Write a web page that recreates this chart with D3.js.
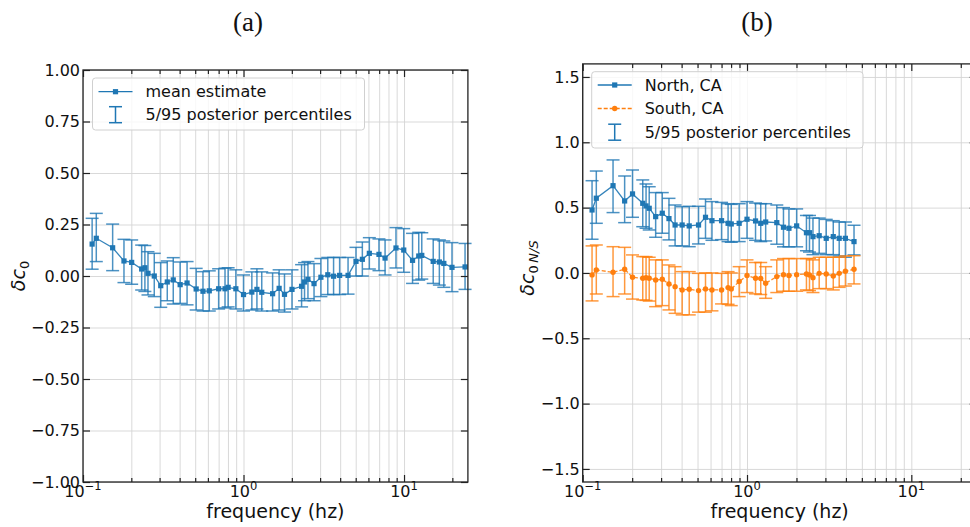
<!DOCTYPE html>
<html>
<head>
<meta charset="utf-8">
<script src="https://cdn.jsdelivr.net/npm/d3@7"></script>
<style>
body { margin:0; background:#fff; }
svg { display:block; font-family:"DejaVu Sans", sans-serif; }
</style>
</head>
<body>
<div id="grafico"></div>
<script>
// dati letti a occhio dal grafico

// pannello (a)
var freqA = [0.114, 0.121, 0.153, 0.18, 0.201, 0.232, 0.243, 0.254, 0.278, 0.305,
  0.335, 0.365, 0.403, 0.445, 0.507, 0.559, 0.612, 0.7, 0.767, 0.802,
  0.896, 1.0, 1.127, 1.212, 1.299, 1.518, 1.667, 1.8, 2.005, 2.3,
  2.4, 2.52, 2.75, 3.035, 3.35, 3.64, 3.97, 4.48, 5.02, 5.5,
  6.08, 6.98, 7.62, 8.91, 9.96, 11.3, 12.35, 12.9, 15.2, 16.6,
  17.7, 19.9, 24.0];
var meanA = [0.155, 0.183, 0.137, 0.073, 0.066, 0.034, 0.04, 0.013, 0.0, -0.047,
  -0.029, -0.019, -0.042, -0.034, -0.063, -0.074, -0.072, -0.062, -0.062, -0.055,
  -0.062, -0.09, -0.078, -0.065, -0.079, -0.086, -0.06, -0.089, -0.065, -0.05,
  -0.029, -0.016, -0.037, -0.006, 0.006, -0.001, 0.003, 0.003, 0.071, 0.081,
  0.11, 0.105, 0.087, 0.136, 0.126, 0.076, 0.097, 0.1, 0.071, 0.068,
  0.061, 0.042, 0.044];
var loA = [0.033, 0.07, 0.026, -0.032, -0.04, -0.068, -0.075, -0.092, -0.1, -0.152,
  -0.12, -0.136, -0.133, -0.14, -0.165, -0.17, -0.17, -0.16, -0.155, -0.15,
  -0.16, -0.17, -0.165, -0.16, -0.17, -0.17, -0.165, -0.175, -0.16, -0.15,
  -0.12, -0.11, -0.12, -0.1, -0.09, -0.09, -0.09, -0.088, 0.0, 0.0,
  0.034, 0.026, 0.005, 0.039, 0.018, -0.036, -0.02, -0.015, -0.036, -0.044,
  -0.055, -0.076, -0.065];
var hiA = [0.28, 0.304, 0.252, 0.178, 0.175, 0.15, 0.148, 0.118, 0.11, 0.065,
  0.073, 0.089, 0.068, 0.07, 0.037, 0.021, 0.025, 0.035, 0.038, 0.04,
  0.03, 0.005, 0.02, 0.035, 0.02, 0.015, 0.03, 0.01, 0.03, 0.055,
  0.065, 0.07, 0.06, 0.085, 0.09, 0.09, 0.09, 0.09, 0.139, 0.165,
  0.186, 0.18, 0.175, 0.235, 0.23, 0.207, 0.212, 0.21, 0.18, 0.175,
  0.17, 0.162, 0.158];

// pannello (b)
var freqB = [0.114, 0.121, 0.153, 0.18, 0.201, 0.232, 0.243, 0.254, 0.278, 0.305,
  0.335, 0.365, 0.403, 0.445, 0.507, 0.559, 0.612, 0.7, 0.767, 0.802,
  0.896, 1.0, 1.127, 1.212, 1.299, 1.518, 1.667, 1.8, 2.005, 2.3,
  2.4, 2.52, 2.75, 3.035, 3.35, 3.64, 3.97, 4.48];
var northMean = [0.482, 0.572, 0.668, 0.551, 0.605, 0.533, 0.513, 0.495, 0.431, 0.457,
  0.416, 0.367, 0.367, 0.36, 0.367, 0.426, 0.4, 0.4, 0.38, 0.375,
  0.38, 0.411, 0.398, 0.38, 0.39, 0.385, 0.35, 0.342, 0.36, 0.308,
  0.308, 0.278, 0.285, 0.265, 0.278, 0.265, 0.265, 0.24];
var northLo = [0.258, 0.38, 0.462, 0.385, 0.426, 0.354, 0.342, 0.329, 0.273, 0.304,
  0.253, 0.207, 0.207, 0.201, 0.222, 0.265, 0.25, 0.255, 0.24, 0.235,
  0.24, 0.265, 0.25, 0.24, 0.245, 0.22, 0.2, 0.2, 0.2, 0.17,
  0.16, 0.14, 0.15, 0.14, 0.14, 0.13, 0.12, 0.138];
var northHi = [0.706, 0.78, 0.865, 0.742, 0.788, 0.712, 0.681, 0.66, 0.615, 0.615,
  0.571, 0.52, 0.507, 0.51, 0.51, 0.566, 0.546, 0.54, 0.53, 0.525,
  0.53, 0.546, 0.535, 0.53, 0.53, 0.52, 0.5, 0.49, 0.49, 0.44,
  0.44, 0.42, 0.42, 0.41, 0.4, 0.39, 0.39, 0.365];
var southMean = [-0.015, 0.023, 0.005, 0.028, -0.033, -0.041, -0.036, -0.041, -0.054, -0.048,
  -0.084, -0.105, -0.13, -0.125, -0.135, -0.122, -0.13, -0.13, -0.112, -0.122,
  -0.066, -0.02, -0.041, -0.043, -0.079, -0.028, -0.013, -0.02, -0.013, -0.008,
  -0.015, -0.036, -0.003, -0.008, -0.023, -0.003, 0.013, 0.028];
var southLo = [-0.214, -0.161, -0.181, -0.161, -0.2, -0.207, -0.21, -0.215, -0.258, -0.25,
  -0.283, -0.309, -0.321, -0.321, -0.3, -0.3, -0.29, -0.237, -0.24, -0.25,
  -0.181, -0.15, -0.16, -0.165, -0.194, -0.15, -0.14, -0.14, -0.14, -0.13,
  -0.135, -0.15, -0.12, -0.12, -0.13, -0.11, -0.1, -0.084];
var southHi = [0.207, 0.214, 0.201, 0.196, 0.138, 0.125, 0.125, 0.12, 0.1, 0.1,
  0.061, 0.048, 0.01, 0.01, -0.003, 0.0, 0.0, -0.003, 0.01, 0.0,
  0.048, 0.1, 0.08, 0.08, 0.048, 0.1, 0.11, 0.11, 0.11, 0.11,
  0.11, 0.1, 0.12, 0.12, 0.12, 0.12, 0.13, 0.132];

// tick
var xMajor = [0.1, 1, 10];
var xMajorLabel = ["\u22121", "0", "1"];
var xMinor = [0.2, 0.3, 0.4, 0.5, 0.6, 0.7, 0.8, 0.9, 2, 3, 4, 5, 6, 7, 8, 9, 20];
var yTicksA = [-1, -0.75, -0.5, -0.25, 0, 0.25, 0.5, 0.75, 1];
var yTicksB = [-1.5, -1, -0.5, 0, 0.5, 1, 1.5];

var blu = "#1f77b4", arancio = "#ff7f0e";
var larghezza = 970, altezza = 527;

var svg = d3.select("#grafico").append("svg")
  .attr("width", larghezza)
  .attr("height", altezza);

function serie(freq, media, lo, hi) {
  return freq.map(function(f, i) { return {f: f, v: media[i], lo: lo[i], hi: hi[i]}; });
}

function pannello(cfg) {
  var x = d3.scaleLog().domain([0.1, 25]).range([cfg.left, cfg.right]);
  var y = d3.scaleLinear().domain(cfg.yDomain).range([cfg.bottom, cfg.top]);
  var g = svg.append("g");
  var h = cfg.bottom - cfg.top, w = cfg.right - cfg.left;

  // griglia
  g.append("g").attr("transform", "translate(0," + cfg.bottom + ")")
    .call(d3.axisBottom(x).tickValues(xMajor.concat(xMinor)).tickSize(-h).tickFormat(""))
    .call(function(a) { a.select(".domain").remove(); })
    .selectAll("line").attr("stroke", "#d5d5d5").attr("stroke-width", 0.9);
  g.append("g").attr("transform", "translate(" + cfg.left + ",0)")
    .call(d3.axisLeft(y).tickValues(cfg.yTicks).tickSize(-w).tickFormat(""))
    .call(function(a) { a.select(".domain").remove(); })
    .selectAll("line").attr("stroke", "#d5d5d5").attr("stroke-width", 0.9);

  // barre di errore, linea, marker
  cfg.series.forEach(function(s) {
    var sg = g.append("g");
    sg.selectAll(".bar").data(s.data).enter().append("line")
      .attr("x1", function(d) { return x(d.f); }).attr("x2", function(d) { return x(d.f); })
      .attr("y1", function(d) { return y(d.lo); }).attr("y2", function(d) { return y(d.hi); })
      .attr("stroke", s.colore).attr("stroke-width", 1.5).attr("stroke-opacity", 0.8);
    ["lo", "hi"].forEach(function(k) {
      sg.selectAll(".cap" + k).data(s.data).enter().append("line")
        .attr("x1", function(d) { return x(d.f) - 6.5; }).attr("x2", function(d) { return x(d.f) + 6.5; })
        .attr("y1", function(d) { return y(d[k]); }).attr("y2", function(d) { return y(d[k]); })
        .attr("stroke", s.colore).attr("stroke-width", 1.5).attr("stroke-opacity", 0.8);
    });
    var linea = d3.line().x(function(d) { return x(d.f); }).y(function(d) { return y(d.v); });
    sg.append("path").datum(s.data).attr("d", linea)
      .attr("fill", "none").attr("stroke", s.colore).attr("stroke-width", 1.3)
      .attr("stroke-opacity", 0.9)
      .attr("stroke-dasharray", s.tratteggio ? "4,2" : null);
    if (s.marker == "square") {
      sg.selectAll(".mk").data(s.data).enter().append("rect")
        .attr("x", function(d) { return x(d.f) - 2.6; }).attr("y", function(d) { return y(d.v) - 2.6; })
        .attr("width", 5.2).attr("height", 5.2).attr("fill", s.colore);
    } else {
      sg.selectAll(".mk").data(s.data).enter().append("circle")
        .attr("cx", function(d) { return x(d.f); }).attr("cy", function(d) { return y(d.v); })
        .attr("r", 2.7).attr("fill", s.colore);
    }
  });

  // tick verso l'interno
  function tacche(asse, valori, lung, trasf) {
    g.append("g").attr("transform", trasf)
      .call(asse.tickValues(valori).tickSize(lung).tickFormat(""))
      .call(function(a) { a.select(".domain").remove(); })
      .selectAll("line").attr("stroke", "#222").attr("stroke-width", 1.2);
  }
  tacche(d3.axisBottom(x), xMajor, -7, "translate(0," + cfg.bottom + ")");
  tacche(d3.axisBottom(x), xMinor, -4, "translate(0," + cfg.bottom + ")");
  tacche(d3.axisTop(x), xMajor, -7, "translate(0," + cfg.top + ")");
  tacche(d3.axisTop(x), xMinor, -4, "translate(0," + cfg.top + ")");
  tacche(d3.axisLeft(y), cfg.yTicks, -7, "translate(" + cfg.left + ",0)");
  tacche(d3.axisRight(y), cfg.yTicks, -7, "translate(" + cfg.right + ",0)");

  // bordo
  g.append("rect").attr("x", cfg.left).attr("y", cfg.top).attr("width", w).attr("height", h)
    .attr("fill", "none").attr("stroke", "#222").attr("stroke-width", 1.3);

  // etichette dei tick
  g.selectAll(".ylab").data(cfg.yTicks).enter().append("text")
    .attr("x", cfg.left - 3).attr("y", function(d) { return y(d); }).attr("dy", "0.36em")
    .attr("text-anchor", "end").attr("font-size", 16).attr("fill", "#111")
    .text(function(d) { return cfg.formato(d); });
  xMajor.forEach(function(d, i) {
    var t = g.append("text").attr("x", x(d)).attr("y", 497)
      .attr("text-anchor", "middle").attr("font-size", 16).attr("fill", "#111");
    t.append("tspan").text("10");
    t.append("tspan").attr("font-size", 11.5).attr("dy", -7).text(xMajorLabel[i]);
  });

  g.append("text").attr("x", cfg.left + w / 2).attr("y", 518)
    .attr("text-anchor", "middle").attr("font-size", 19).attr("fill", "#111")
    .text("frequency (hz)");

  var yl = g.append("text")
    .attr("transform", "translate(" + cfg.yLabelX + "," + cfg.yLabelY + ") rotate(-90)")
    .attr("text-anchor", "middle").attr("font-size", 19).attr("fill", "#111");
  yl.append("tspan").attr("font-style", "italic").text("\u03b4c");
  var sub = yl.append("tspan").attr("font-size", 13).attr("dy", 4);
  sub.append("tspan").text("0");
  if (cfg.pedice) sub.append("tspan").attr("font-style", "italic").text("\u2009" + cfg.pedice);

  svg.append("text").attr("x", cfg.titoloX).attr("y", 31)
    .attr("text-anchor", "middle").attr("font-size", 27)
    .attr("font-family", "'Liberation Serif', 'DejaVu Serif', serif").attr("fill", "#111")
    .text(cfg.titolo);

  // legenda
  var lg = g.append("g");
  lg.append("rect").attr("x", cfg.legenda.x).attr("y", cfg.legenda.y)
    .attr("width", cfg.legenda.w).attr("height", cfg.legenda.h).attr("rx", 3)
    .attr("fill", "#fff").attr("fill-opacity", 0.8).attr("stroke", "#d0d0d0");
  var lx = cfg.legenda.x;
  cfg.legenda.voci.forEach(function(v) {
    var cx = lx + 23;
    if (v.tipo == "barra") {
      lg.append("line").attr("x1", cx).attr("x2", cx).attr("y1", v.y - 8).attr("y2", v.y + 8)
        .attr("stroke", blu).attr("stroke-width", 1.5);
      [v.y - 8, v.y + 8].forEach(function(yy) {
        lg.append("line").attr("x1", cx - 6.5).attr("x2", cx + 6.5).attr("y1", yy).attr("y2", yy)
          .attr("stroke", blu).attr("stroke-width", 1.5);
      });
    } else {
      lg.append("line").attr("x1", lx + 6).attr("x2", lx + 40).attr("y1", v.y).attr("y2", v.y)
        .attr("stroke", v.colore).attr("stroke-width", 1.3)
        .attr("stroke-dasharray", v.tratteggio ? "4,2" : null);
      if (v.marker == "square") {
        lg.append("rect").attr("x", cx - 2.6).attr("y", v.y - 2.6).attr("width", 5.2).attr("height", 5.2)
          .attr("fill", v.colore);
      } else {
        lg.append("circle").attr("cx", cx).attr("cy", v.y).attr("r", 2.7).attr("fill", v.colore);
      }
    }
    lg.append("text").attr("x", lx + 53).attr("y", v.y).attr("dy", "0.36em")
      .attr("font-size", 16).attr("fill", "#111").text(v.testo);
  });
}

pannello({
  left: 83, right: 467.9, top: 70, bottom: 482,
  yDomain: [-1, 1], yTicks: yTicksA, formato: d3.format(".2f"),
  yLabelX: 25, yLabelY: 276, titolo: "(a)", titoloX: 248,
  series: [{data: serie(freqA, meanA, loA, hiA), colore: blu, marker: "square"}],
  legenda: {x: 92.5, y: 78, w: 272, h: 52, voci: [
    {y: 91.7, testo: "mean estimate", colore: blu, marker: "square"},
    {y: 114.7, testo: "5/95 posterior percentiles", tipo: "barra"}
  ]}
});

pannello({
  left: 582.7, right: 976.7, top: 63.9, bottom: 482,
  yDomain: [-1.6, 1.6], yTicks: yTicksB, formato: d3.format(".1f"),
  yLabelX: 534, yLabelY: 268, pedice: "N/S", titolo: "(b)", titoloX: 757,
  series: [
    {data: serie(freqB, northMean, northLo, northHi), colore: blu, marker: "square"},
    {data: serie(freqB, southMean, southLo, southHi), colore: arancio, marker: "circle", tratteggio: true}
  ],
  legenda: {x: 591.7, y: 71.7, w: 271.3, h: 76.3, voci: [
    {y: 85, testo: "North, CA", colore: blu, marker: "square"},
    {y: 108.5, testo: "South, CA", colore: arancio, marker: "circle", tratteggio: true},
    {y: 132.2, testo: "5/95 posterior percentiles", tipo: "barra"}
  ]}
});
</script>
</body>
</html>
